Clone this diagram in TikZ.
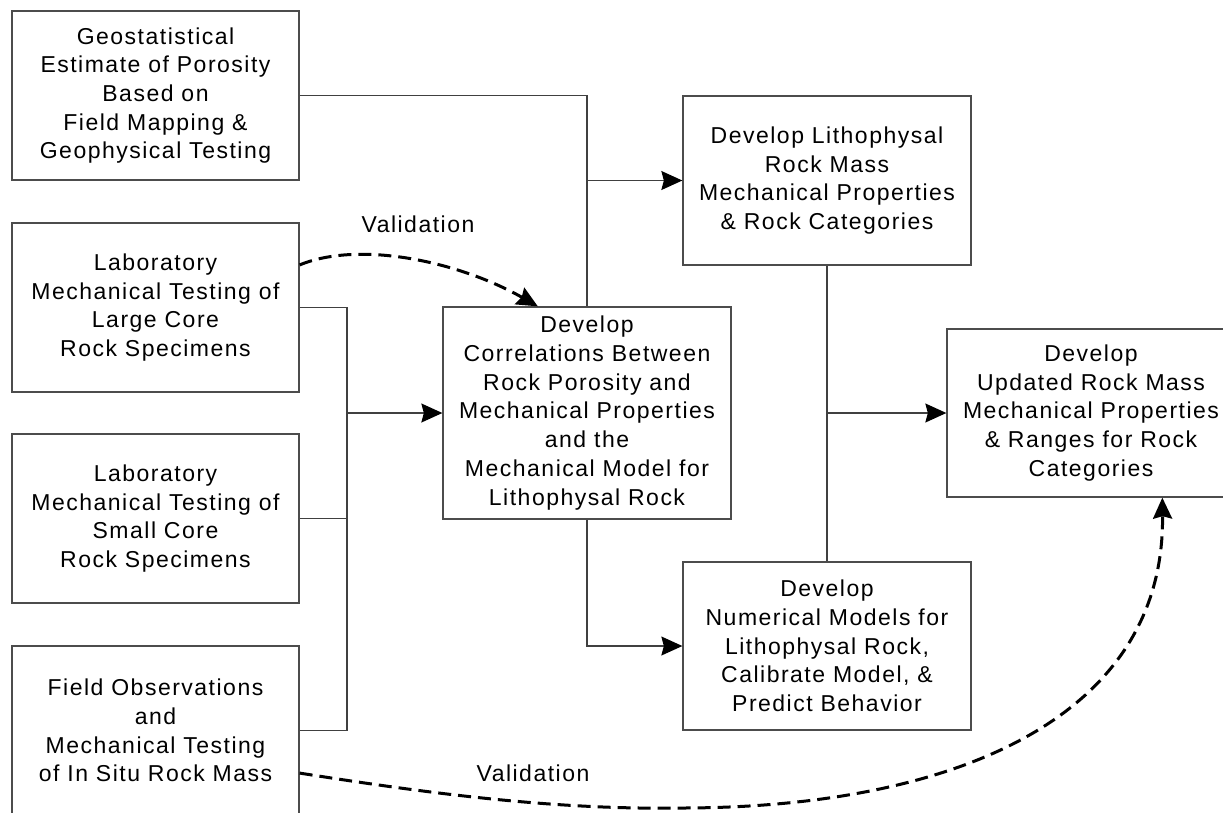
\documentclass[tikz,border=0pt]{standalone}
\usepackage{fontspec}
\setmainfont{Liberation Sans}[LetterSpace=6.5]
\usetikzlibrary{arrows.meta,calc}
\begin{document}
\begin{tikzpicture}[x=1pt,y=-1pt,
  box/.style={draw=black!70, line width=1.3pt, minimum width=287pt, minimum height=169pt,
    align=center, inner sep=0pt, font=\fontsize{23}{28.7}\selectfont},
  conn/.style={draw=black!75, line width=1.3pt},
  arr/.style={conn, -{Stealth[length=21pt,width=19pt,inset=2.5pt,black]}},
  valid/.style={draw=black, line width=3pt, dash pattern=on 13pt off 7pt,
    -{Stealth[length=21pt,width=19pt,inset=2.5pt,black]}},
  lbl/.style={font=\fontsize{23}{28.7}\selectfont, inner sep=0pt}
]
\fill[white] (0,0) rectangle (1223,812);
\useasboundingbox (0,0) rectangle (1223,812);

\node[box] (b1) at (155.5,95.5) {Geostatistical\\Estimate of Porosity\\Based on\\Field Mapping \&\\Geophysical Testing};
\node[box] (b2) at (155.5,307.5) {Laboratory\\Mechanical Testing of\\Large Core\\Rock Specimens};
\node[box] (b3) at (155.5,518.5) {Laboratory\\Mechanical Testing of\\Small Core\\Rock Specimens};
\node[box] (b4) at (155.5,730.5) {Field Observations\\and\\Mechanical Testing\\of In Situ Rock Mass};
\node[box, minimum width=288pt, minimum height=212pt] (corr) at (587,413) {Develop\\Correlations Between\\Rock Porosity and\\Mechanical Properties\\and the\\Mechanical Model for\\Lithophysal Rock};
\node[box, minimum width=288pt] (lith) at (827,180.5) {Develop Lithophysal\\Rock Mass\\Mechanical Properties\\\& Rock Categories};
\node[box, minimum width=288pt, minimum height=168pt] (num) at (827,646) {Develop\\Numerical Models for\\Lithophysal Rock,\\Calibrate Model, \&\\Predict Behavior};
\node[box, minimum width=288pt, minimum height=168pt] (upd) at (1091,413) {Develop\\Updated Rock Mass\\Mechanical Properties\\\& Ranges for Rock\\Categories};

\coordinate (busT) at (347,307.5);
\coordinate (busB) at (347,730.5);

% geostatistical to correlations / lithophysal
\draw[conn] (b1.east) -| (corr.north);
\draw[arr] (corr.north |- lith.west) -- (lith.west);

% bus from lab / field boxes
\draw[conn] (b2.east) -- (busT) -- (busB) -- (b4.east);
\draw[conn] (b3.east) -- (b3.east -| busT);
\draw[arr] (busT |- corr.west) -- (corr.west);

% correlations to numerical
\draw[arr] (corr.south) |- (num.west);

% lithophysal - numerical to updated
\draw[conn] (lith.south) -- (num.north);
\draw[arr] (lith.south |- upd.west) -- (upd.west);

% validation curves
\coordinate (v1s) at ($(b2.north east)!0.25!(b2.south east)$);
\coordinate (v1e) at ($(corr.north west)!0.33!(corr.north east)$);
\draw[valid] (v1s) .. controls (360,240) and (460,262) .. (v1e);
\node[lbl] (val1) at (418,224) {Validation};

\coordinate (v2s) at ($(b4.north east)!0.75!(b4.south east)$);
\coordinate (v2m) at (680,808);
\coordinate (v2e) at ($(upd.south west)!0.7465!(upd.south east)$);
\draw[valid] (v2s) .. controls (420,792) and (550,810) .. (v2m)
  .. controls (950,808) and (1165,720) .. (v2e);
\node[lbl] (val2) at (533,773) {Validation};
\end{tikzpicture}
\end{document}
